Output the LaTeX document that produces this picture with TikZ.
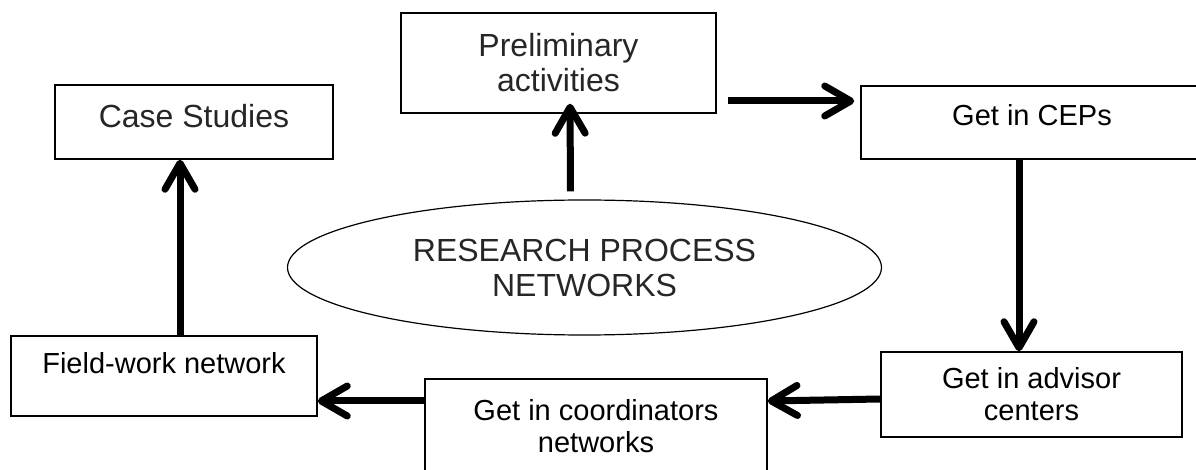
\documentclass[tikz,border=0pt]{standalone}
\usepackage{fontspec}
\setmainfont{Liberation Sans}
\usetikzlibrary{arrows.meta, positioning, shapes.geometric, calc}
\definecolor{inkgray}{RGB}{38,38,38}

\tikzset{
    stepbox/.style={draw, line width=0.75pt, inner sep=0pt, align=center,
                    font=\fontsize{14.5}{16}\selectfont},
    bigtext/.style={font=\fontsize{16}{17.5}\selectfont, text=inkgray},
    flow/.style={line width=3.5pt,
                 -{Straight Barb[length=13pt, width=15pt, round]}}
}

\begin{document}
\begin{tikzpicture}[x=0.5pt, y=-0.5pt]
    \useasboundingbox (0,0) rectangle (1196,470);

    % boxes
    \node[stepbox, bigtext, minimum width=139pt, minimum height=37pt,
          text depth=6pt] (case) at (194,122) {Case Studies};
    \node[stepbox, bigtext, minimum width=157.5pt, minimum height=50pt]
      (prelim) at (558.5,63) {Preliminary\\activities};
    \node[stepbox, minimum width=171pt, minimum height=36.5pt,
          text depth=7.5pt] (ceps) at (1032,122.5) {Get in CEPs};
    \node[stepbox, minimum width=150.5pt, minimum height=42.5pt]
      (advisor) at (1031.5,394.5) {Get in advisor\\centers};
    \node[stepbox, minimum width=171pt, minimum height=47.5pt]
      (coord) at (596,426.5) {Get in coordinators\\networks};
    \node[stepbox, minimum width=153pt, minimum height=40pt,
          text depth=13pt] (field) at (164,376) {Field-work network};

    \node[draw, ellipse, line width=0.6pt, inner sep=0pt, align=center,
          bigtext, minimum width=297pt, minimum height=67.5pt]
      (hub) at (584.5,267.5) {RESEARCH PROCESS\\NETWORKS};

    % arrows
    \draw[flow] ($(hub.north)+(-14,-8)$) -- ($(prelim.south)+(11.5,-10)$);
    \draw[flow] ($(prelim.east)+(11,38)$) -- ($(ceps.west)+(-6,-21.5)$);
    \draw[flow] ([xshift=-6.5pt]ceps.south) -- ([xshift=-6.5pt]ceps.south |- advisor.north);
    \draw[flow] ($(advisor.west)+(0,4.5)$) -- ($(coord.east)+(0,-25.5)$);
    \draw[flow] ($(coord.west)+(0,-25.5)$) -- ($(field.east)+(0,25)$);
    \draw[flow] ([xshift=-7pt]case.south |- field.north) -- ([xshift=-7pt]case.south);
\end{tikzpicture}
\end{document}
